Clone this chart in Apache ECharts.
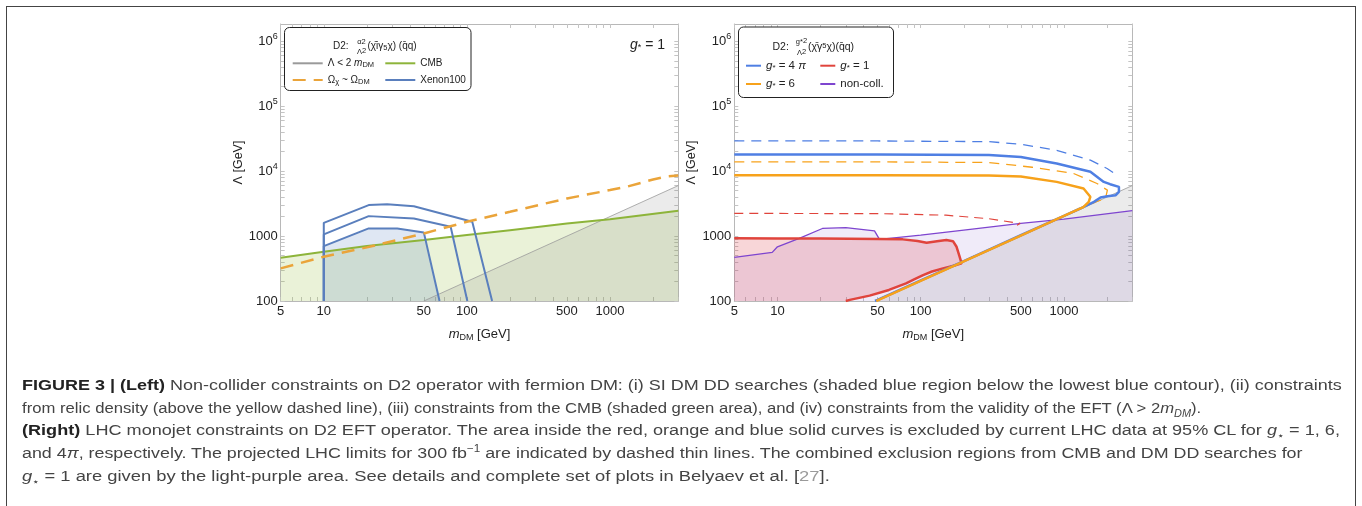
<!DOCTYPE html>
<html>
<head>
<meta charset="utf-8">
<script src="https://cdn.jsdelivr.net/npm/echarts@6/dist/echarts.min.js"></script>
<style>
  html, body { margin: 0; padding: 0; background: #fff; }
  #wrap { position: relative; width: 1362px; height: 506px; overflow: hidden; }
  #chart { position: absolute; left: 0; top: 0; width: 1362px; height: 506px; }
  #frame { position: absolute; left: 6px; top: 6px; width: 1348px; height: 540px;
           border: 1.5px solid #444; border-bottom: none; }
  #caption { position: absolute; left: 22px; top: 374px; white-space: nowrap;
             font-family: "Liberation Sans", Arial, sans-serif; font-size: 15.3px;
             line-height: 22.7px; color: #444; }
  #caption div { transform-origin: 0 50%; height: 22.7px; }
  #caption b { color: #222; }
  #caption sub, #caption sup { font-size: 10px; line-height: 0; }
  .ref { color: #9a9a9a; }
</style>
</head>
<body>
<div id="wrap">
  <div id="chart"></div>
  <div id="frame"></div>
  <div id="caption">
    <div style="transform: scaleX(1.176)"><b>FIGURE 3 | (Left)</b> Non-collider constraints on D2 operator with fermion DM: (i) SI DM DD searches (shaded blue region below the lowest blue contour), (ii) constraints</div>
    <div style="transform: scaleX(1.09)">from relic density (above the yellow dashed line), (iii) constraints from the CMB (shaded green area), and (iv) constraints from the validity of the EFT (Λ &gt; 2<i>m</i><sub><i>DM</i></sub>).</div>
    <div style="transform: scaleX(1.183)"><b>(Right)</b> LHC monojet constraints on D2 EFT operator. The area inside the red, orange and blue solid curves is excluded by current LHC data at 95% CL for <i>g</i><sub>⋆</sub> = 1, 6,</div>
    <div style="transform: scaleX(1.167)">and 4<i>π</i>, respectively. The projected LHC limits for 300 fb<sup>−1</sup> are indicated by dashed thin lines. The combined exclusion regions from CMB and DM DD searches for</div>
    <div style="transform: scaleX(1.2)"><i>g</i><sub>⋆</sub> = 1 are given by the light-purple area. See details and complete set of plots in Belyaev et al. [<span class="ref">27</span>].</div>
  </div>
</div>
<script>
// axis ticks
const xLabels = [5, 10, 50, 100, 500, 1000];
const yLabels = [100, 1000, 1e4, 1e5, 1e6];
const xRange = [5, 3000];
const yRange = [100, 1.85e6];

// left panel: non-collider constraints (m_DM, Lambda)
const lamLine = [[50, 100], [3000, 6000]];
const cmbLine = [[5, 463], [10, 574], [20, 702], [50, 867], [100, 1035], [200, 1235],
                 [500, 1567], [1000, 1820], [3000, 2460]];
const relicLine = [[5, 318], [10, 481], [20, 670], [50, 1097], [100, 1660], [200, 2366],
                   [500, 3800], [1000, 5110], [1300, 5730], [2000, 7450], [2500, 8320], [3000, 8600]];
const xenonLow = [[10, 100], [10, 702], [20.6, 1312], [32.6, 1312], [50, 1140], [64.4, 100]];
const xenonMid = [[10, 100], [10, 1062], [20.6, 2030], [42.6, 1870], [77, 1390], [100.7, 100]];
const xenonHigh = [[10, 100], [10, 1600], [20.6, 3000], [27.7, 3100], [42.6, 2880], [109, 1660], [150, 100]];

// right panel: LHC monojet limits
const gs4piNow = [[5, 18070], [50, 18000], [300, 17800], [500, 16500], [890, 13100], [1530, 9770],
                  [1897, 6840], [2100, 6300], [2420, 5730], [2420, 4800], [2300, 4270], [2010, 4120],
                  [1800, 3930], [1620, 3370], [1300, 2660], [1000, 2050], [500, 1030], [200, 412],
                  [100, 208], [50, 104], [48, 100]];
const gs4piProj = [[5, 29200], [50, 29200], [300, 28500], [500, 26000], [890, 21000], [1530, 14800],
                   [2000, 11000], [2350, 8670]];
const gs4piProjDiag = [[1250, 2560], [800, 1640], [400, 820], [200, 412], [100, 207], [50, 104]];
const gs6Now = [[5, 8670], [50, 8650], [300, 8600], [500, 8300], [890, 6840], [1370, 5400],
                [1528, 4030], [1490, 3370], [1365, 2790], [1000, 2040], [500, 1020], [200, 408],
                [100, 204], [50, 102], [49, 100]];
const gs6Proj = [[5, 13900], [50, 13900], [300, 13600], [600, 11500], [1165, 9230], [1700, 6460],
                 [2010, 5100], [1950, 3800], [1670, 3370], [1400, 2850]];
const gs1Now = [[5, 923], [10, 921], [20, 916], [50, 905], [75, 890], [95, 840], [110, 790],
                [130, 835], [151, 867], [168, 835], [178, 684], [186, 500], [193, 380], [170, 350],
                [143, 318], [120, 285], [104, 251], [90, 215], [79, 187], [60, 148], [44, 121],
                [32, 104], [30, 100]];
const gs1Proj = [[5, 2235], [50, 2220], [150, 2100], [300, 1850], [494, 1570], [470, 1470]];
const gs1ProjDiag = [[470, 960], [300, 620], [200, 415]];
const nonColl = [[5, 470], [9.2, 561], [10, 684], [14.2, 920], [20.6, 1310], [30, 1350],
                 [47.6, 1200], [51.6, 890], [100, 1035], [200, 1235], [500, 1567], [1000, 1820],
                 [3000, 2460]];

const minorTicks = (lo, hi) => {
  const out = [];
  for (let d = lo; d <= hi; d *= 10) for (let k = 1; k < 10; k++) out.push(k * d);
  return out;
};
const xTicks = minorTicks(1, 1000).filter(v => v >= 5 && v <= 3000);
const yTicks = minorTicks(100, 1e6).filter(v => v <= 1.85e6);

const FONT = '"Liberation Sans", Arial, sans-serif';
const rich = {
  i: { fontStyle: 'italic', fontFamily: FONT },
  sub: { fontSize: 7.5, verticalAlign: 'bottom', lineHeight: 9, fontFamily: FONT },
  sup: { fontSize: 7.5, verticalAlign: 'top', lineHeight: 9, fontFamily: FONT }
};
const richBig = {
  i: { fontStyle: 'italic', fontSize: 11.5, fontFamily: FONT },
  sub: { fontSize: 8, verticalAlign: 'bottom', lineHeight: 10, fontFamily: FONT }
};

const grids = [
  { left: 280.7, top: 24, width: 397.6, height: 277 },
  { left: 734.3, top: 24, width: 398, height: 277 }
];

function xAx(gi, pos) {
  const bottom = pos === 'bottom';
  return {
    type: 'log', logBase: 10, gridIndex: gi, position: pos, min: xRange[0], max: xRange[1],
    name: bottom ? '{i|m}{sub|DM} [GeV]' : '', nameLocation: 'middle', nameGap: 25,
    nameTextStyle: { fontSize: 13, color: '#222', fontFamily: FONT, lineHeight: 16,
                     rich: { i: { fontStyle: 'italic', fontSize: 13, fontFamily: FONT },
                             sub: { fontSize: 9, verticalAlign: 'bottom', lineHeight: 10, fontFamily: FONT } } },
    axisLine: { show: true, lineStyle: { color: '#b8b8b8', width: 1 } },
    axisTick: { show: true, inside: true, length: 4, customValues: xTicks, lineStyle: { color: '#c4c4c4' } },
    axisLabel: { show: bottom, customValues: xLabels, margin: 4, fontSize: 13, color: '#222', fontFamily: FONT,
                 formatter: v => String(Math.round(v)) },
    splitLine: { show: false }
  };
}

function yAx(gi, pos) {
  const left = pos === 'left';
  return {
    type: 'log', logBase: 10, gridIndex: gi, position: pos, min: yRange[0], max: yRange[1],
    name: left ? 'Λ [GeV]' : '', nameLocation: 'middle', nameGap: 30, nameRotate: 90,
    nameTextStyle: { fontSize: 12.5, color: '#222', fontFamily: FONT },
    axisLine: { show: true, lineStyle: { color: '#b8b8b8', width: 1 } },
    axisTick: { show: true, inside: true, length: 4, customValues: yTicks, lineStyle: { color: '#c4c4c4' } },
    axisLabel: {
      show: left, customValues: yLabels, margin: 3, fontSize: 13, color: '#222', fontFamily: FONT,
      lineHeight: 18,
      formatter: v => v >= 1e4 ? '10{sup|' + Math.round(Math.log10(v)) + '}' : String(Math.round(v)),
      rich: { sup: { fontSize: 9, verticalAlign: 'top', lineHeight: 16, fontFamily: FONT, color: '#222' } }
    },
    splitLine: { show: false }
  };
}

function area(name, pts, ai, color) {
  return {
    type: 'custom', name, xAxisIndex: ai, yAxisIndex: ai, data: pts, encode: { x: 0, y: 1 },
    clip: true, silent: true, z: 1,
    renderItem: (params, api) => {
      if (params.dataIndex !== 0) return null;
      return { type: 'polygon', shape: { points: pts.map(p => api.coord(p)) }, style: { fill: color } };
    }
  };
}

function curve(name, pts, ai, color, width, dash, z) {
  return {
    type: 'line', name, xAxisIndex: ai, yAxisIndex: ai, data: pts, symbol: 'none', showSymbol: false,
    legendIcon: 'none', clip: true, silent: true, z: z || 2,
    lineStyle: { color, width, type: dash || 'solid' }, itemStyle: { color }
  };
}

const L = 0, R = 2; // axis indices of the two panels
const C = {
  xen: '#5a7fbd', cmb: '#8db43a', relic: '#eaa43a', gray: '#9a9a9a',
  blue: '#4f7fe3', orange: '#f7a21b', red: '#e0443c', purple: '#7e45cf'
};

const series = [
  // left fills
  area('cmbFill', cmbLine.concat([[3000, 100], [5, 100]]), L, 'rgba(150,190,60,0.2)'),
  area('lamFillL', lamLine.concat([[3000, 100]]), L, 'rgba(100,100,100,0.13)'),
  area('xenFill', xenonLow, L, 'rgba(80,120,190,0.18)'),
  // left lines
  curve('lam', lamLine, L, C.gray, 0.8),
  curve('cmb', cmbLine, L, C.cmb, 2),
  curve('xenon', xenonLow, L, C.xen, 2),
  curve('xenon', xenonMid, L, C.xen, 2),
  curve('xenon', xenonHigh, L, C.xen, 2),
  curve('relic', relicLine, L, C.relic, 2.5, [13, 8], 3),
  // right fills
  area('ncFill', nonColl.concat([[3000, 100], [5, 100]]), R, 'rgba(140,100,210,0.13)'),
  area('lamFillR', lamLine.concat([[3000, 100]]), R, 'rgba(100,100,100,0.13)'),
  area('g1Fill', gs1Now.concat([[5, 100]]), R, 'rgba(220,50,60,0.2)'),
  // right lines
  curve('lamR', lamLine, R, C.gray, 0.8),
  curve('noncoll', nonColl, R, C.purple, 1.3),
  curve('g1p', gs1Proj, R, C.red, 1.2, [9, 6]),
  curve('g1pd', gs1ProjDiag, R, C.red, 1.2, [9, 14]),
  curve('g4p', gs4piProj, R, C.blue, 1.3, [10, 7]),
  curve('g4pd', gs4piProjDiag, R, C.blue, 1.3, [8, 7]),
  curve('g6p', gs6Proj, R, C.orange, 1.3, [10, 7]),
  curve('g1', gs1Now, R, C.red, 2.5),
  curve('g4pi', gs4piNow, R, C.blue, 2.5),
  curve('g6', gs6Now, R, C.orange, 2.5, null, 3)
];

const legendNames = {
  lam: 'Λ < 2 {i|m}{sub|DM}', relic: 'Ω{sub|χ} ~ Ω{sub|DM}', cmb: 'CMB', xenon: 'Xenon100',
  g4pi: '{i|g}{sub|*} = 4 {i|π}', g6: '{i|g}{sub|*} = 6', g1: '{i|g}{sub|*} = 1', noncoll: 'non-coll.'
};

function legend(names, left, top, w, gap, size, r) {
  return {
    data: names, orient: 'vertical', left, top, itemWidth: w, itemHeight: 12, itemGap: gap,
    padding: 0, selectedMode: false, z: 6,
    itemStyle: { opacity: 0 },
    formatter: n => legendNames[n],
    textStyle: { fontSize: size, color: '#222', fontFamily: FONT, lineHeight: 12, rich: r }
  };
}

const txt = (text, x, y, size, extra) => ({
  type: 'text', z: 7, style: Object.assign({
    text, x, y, fill: '#222', fontSize: size, fontFamily: FONT, textVerticalAlign: 'middle', rich
  }, extra || {})
});

const option = {
  animation: false,
  backgroundColor: '#fff',
  grid: grids,
  xAxis: [xAx(0, 'bottom'), xAx(0, 'top'), xAx(1, 'bottom'), xAx(1, 'top')],
  yAxis: [yAx(0, 'left'), yAx(0, 'right'), yAx(1, 'left'), yAx(1, 'right')],
  legend: [
    legend(['lam', 'relic'], 291.7, 57.3, 30, 4.7, 10, rich),
    legend(['cmb', 'xenon'], 384.3, 57.3, 30, 4.7, 10, rich),
    legend(['g4pi', 'g6'], 745, 59.7, 15, 6.3, 11.5, richBig),
    legend(['g1', 'noncoll'], 819.3, 59.7, 15, 6.3, 11.5, richBig)
  ],
  graphic: [
    { type: 'rect', z: 5, shape: { x: 284.5, y: 27.5, width: 186.5, height: 63, r: 5 },
      style: { fill: '#fff', stroke: '#222', lineWidth: 1 } },
    { type: 'rect', z: 5, shape: { x: 738.5, y: 27, width: 155, height: 70.5, r: 5 },
      style: { fill: '#fff', stroke: '#222', lineWidth: 1 } },
    txt('D2:', 333, 46.5, 10),
    txt('α{sup|2}', 361.5, 42, 7.5, { textAlign: 'center' }),
    txt('Λ{sup|2}', 361.5, 51.5, 7.5, { textAlign: 'center' }),
    txt('(χ̄iγ{sub|5}χ) (q̄q)', 367.5, 46.5, 10),
    txt('D2:', 772.5, 47, 10.5),
    txt('g{sub|*}{sup|2}', 801.5, 41.5, 7.5, { textAlign: 'center' }),
    txt('Λ{sup|2}', 801.5, 52.5, 7.5, { textAlign: 'center' }),
    txt('(χ̄γ{sup|5}χ)(q̄q)', 808, 47, 10.5),
    txt('{i|g}{s|*} = 1', 630, 45, 14, {
      rich: { i: { fontStyle: 'italic', fontSize: 14, fontFamily: FONT },
              s: { fontSize: 9, verticalAlign: 'bottom', lineHeight: 12, fontFamily: FONT } }
    })
  ],
  series
};

const chart = echarts.init(document.getElementById('chart'), null, { renderer: 'canvas' });
chart.setOption(option);
</script>
</body>
</html>
